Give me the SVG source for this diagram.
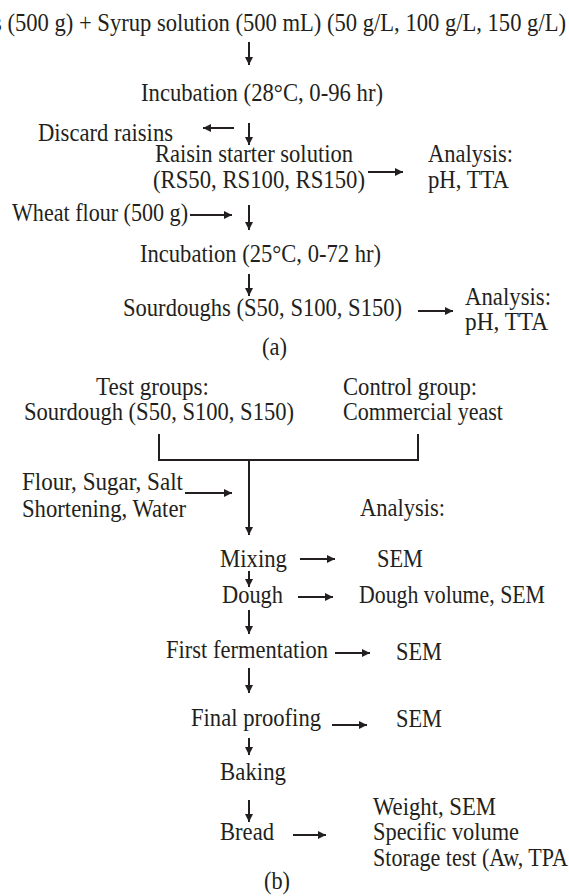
<svg xmlns="http://www.w3.org/2000/svg" width="569" height="896" viewBox="0 0 569 896">
<defs>
<marker id="ah" viewBox="0 0 10 10" refX="10" refY="5" markerWidth="9" markerHeight="8" markerUnits="userSpaceOnUse" orient="auto">
<path d="M0,0 L10,5 L0,10 z" fill="#231f20"/>
</marker>
<style>
text{font-family:"Liberation Serif","Times New Roman",serif;font-size:25px;fill:#231f20}
.a{stroke:#231f20;stroke-width:2;fill:none;marker-end:url(#ah)}
.l{stroke:#231f20;stroke-width:2;fill:none}
</style>
</defs>
<rect width="569" height="896" fill="#fff"/>
<g id="nodes">
<g id="n-raisins"><text x="-7" y="31" textLength="573" lengthAdjust="spacingAndGlyphs">s (500 g) + Syrup solution (500 mL) (50 g/L, 100 g/L, 150 g/L)</text></g>
<g id="n-inc1"><text x="141" y="101" textLength="242" lengthAdjust="spacingAndGlyphs">Incubation (28°C, 0-96 hr)</text></g>
<g id="n-discard"><text x="38" y="141" textLength="135" lengthAdjust="spacingAndGlyphs">Discard raisins</text></g>
<g id="n-rs"><text x="155" y="162" textLength="198" lengthAdjust="spacingAndGlyphs">Raisin starter solution</text><text x="153" y="188" textLength="212" lengthAdjust="spacingAndGlyphs">(RS50, RS100, RS150)</text></g>
<g id="n-an1"><text x="428" y="162" textLength="85" lengthAdjust="spacingAndGlyphs">Analysis:</text><text x="428" y="188" textLength="81" lengthAdjust="spacingAndGlyphs">pH, TTA</text></g>
<g id="n-wheat"><text x="12" y="221" textLength="176" lengthAdjust="spacingAndGlyphs">Wheat flour (500 g)</text></g>
<g id="n-inc2"><text x="140" y="262" textLength="241" lengthAdjust="spacingAndGlyphs">Incubation (25°C, 0-72 hr)</text></g>
<g id="n-sd"><text x="123" y="316" textLength="279" lengthAdjust="spacingAndGlyphs">Sourdoughs (S50, S100, S150)</text></g>
<g id="n-an2"><text x="465" y="305" textLength="86" lengthAdjust="spacingAndGlyphs">Analysis:</text><text x="465" y="330" textLength="83" lengthAdjust="spacingAndGlyphs">pH, TTA</text></g>
<g id="n-a"><text x="262" y="355" textLength="25" lengthAdjust="spacingAndGlyphs">(a)</text></g>
<g id="n-test"><text x="96" y="395" textLength="113" lengthAdjust="spacingAndGlyphs">Test groups:</text><text x="24" y="420" textLength="270" lengthAdjust="spacingAndGlyphs">Sourdough (S50, S100, S150)</text></g>
<g id="n-control"><text x="343" y="395" textLength="134" lengthAdjust="spacingAndGlyphs">Control group:</text><text x="343" y="420" textLength="160" lengthAdjust="spacingAndGlyphs">Commercial yeast</text></g>
<g id="n-ingr"><text x="22" y="490" textLength="161" lengthAdjust="spacingAndGlyphs">Flour, Sugar, Salt</text><text x="22" y="517" textLength="164" lengthAdjust="spacingAndGlyphs">Shortening, Water</text></g>
<g id="n-an3"><text x="360" y="516" textLength="85" lengthAdjust="spacingAndGlyphs">Analysis:</text></g>
<g id="n-mixing"><text x="220" y="567" textLength="67" lengthAdjust="spacingAndGlyphs">Mixing</text></g>
<g id="n-sem1"><text x="377" y="567" textLength="46" lengthAdjust="spacingAndGlyphs">SEM</text></g>
<g id="n-dough"><text x="222" y="603" textLength="61" lengthAdjust="spacingAndGlyphs">Dough</text></g>
<g id="n-dv"><text x="359" y="603" textLength="186" lengthAdjust="spacingAndGlyphs">Dough volume, SEM</text></g>
<g id="n-ff"><text x="166" y="658" textLength="162" lengthAdjust="spacingAndGlyphs">First fermentation</text></g>
<g id="n-sem2"><text x="396" y="660" textLength="46" lengthAdjust="spacingAndGlyphs">SEM</text></g>
<g id="n-fp"><text x="191" y="726" textLength="130" lengthAdjust="spacingAndGlyphs">Final proofing</text></g>
<g id="n-sem3"><text x="396" y="727" textLength="46" lengthAdjust="spacingAndGlyphs">SEM</text></g>
<g id="n-baking"><text x="220" y="780" textLength="66" lengthAdjust="spacingAndGlyphs">Baking</text></g>
<g id="n-bread"><text x="220" y="840" textLength="54" lengthAdjust="spacingAndGlyphs">Bread</text></g>
<g id="n-an4"><text x="373" y="815" textLength="123" lengthAdjust="spacingAndGlyphs">Weight, SEM</text><text x="373" y="840" textLength="146" lengthAdjust="spacingAndGlyphs">Specific volume</text><text x="373" y="866" textLength="195" lengthAdjust="spacingAndGlyphs">Storage test (Aw, TPA</text></g>
<g id="n-b"><text x="264" y="889" textLength="26" lengthAdjust="spacingAndGlyphs">(b)</text></g>
</g>
<g id="connectors">
<line x1="249" y1="42" x2="249" y2="65" class="a"/>
<line x1="234" y1="128" x2="203" y2="128" class="a"/>
<line x1="249" y1="123" x2="249" y2="145" class="a"/>
<line x1="368" y1="172" x2="403" y2="172" class="a"/>
<line x1="190" y1="215" x2="232" y2="215" class="a"/>
<line x1="249" y1="205" x2="249" y2="230" class="a"/>
<line x1="249" y1="274" x2="249" y2="296" class="a"/>
<line x1="418" y1="311" x2="453" y2="311" class="a"/>
<path d="M159,434 V460 H418 V434" class="l"/>
<line x1="249" y1="460" x2="249" y2="535" class="a"/>
<line x1="185" y1="493" x2="232" y2="493" class="a"/>
<line x1="300" y1="559" x2="335" y2="559" class="a"/>
<line x1="249" y1="571" x2="249" y2="587" class="a"/>
<line x1="298" y1="597" x2="333" y2="597" class="a"/>
<line x1="249" y1="610" x2="249" y2="634" class="a"/>
<line x1="335" y1="653" x2="370" y2="653" class="a"/>
<line x1="249" y1="668" x2="249" y2="693" class="a"/>
<line x1="332" y1="725" x2="367" y2="725" class="a"/>
<line x1="249" y1="738" x2="249" y2="755" class="a"/>
<line x1="249" y1="800" x2="249" y2="822" class="a"/>
<line x1="293" y1="835" x2="326" y2="835" class="a"/>
</g>
</svg>
